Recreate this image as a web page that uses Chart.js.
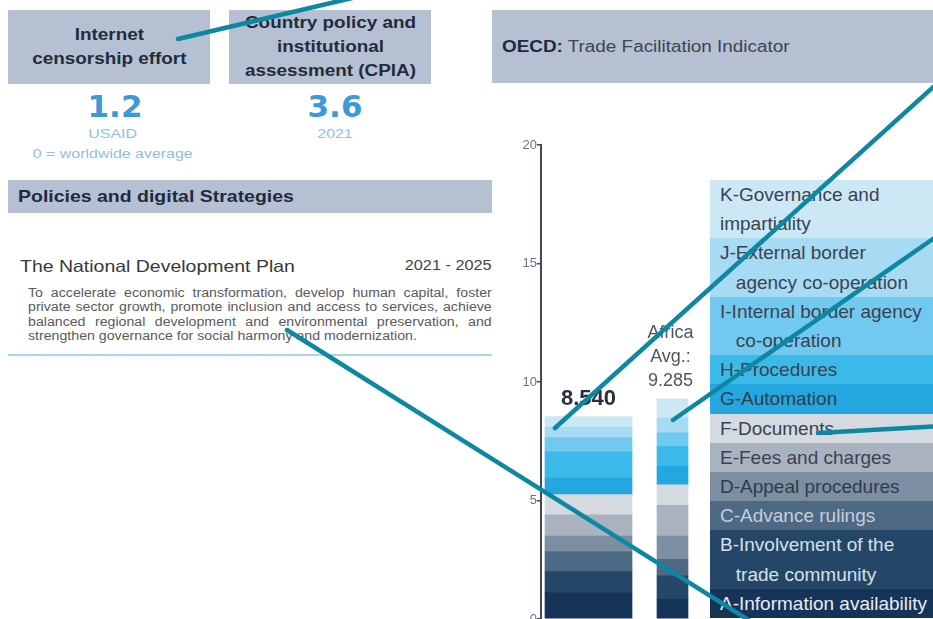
<!DOCTYPE html>
<html>
<head>
<meta charset="utf-8">
<script src="https://cdn.jsdelivr.net/npm/chart.js@4.4.1/dist/chart.umd.min.js"></script>
<style>
html,body{margin:0;padding:0;background:#fff;}
body{width:933px;height:619px;overflow:hidden;position:relative;font-family:"Liberation Sans",Arial,Helvetica,sans-serif;}
.abs{position:absolute;}
.hdr{position:absolute;background:#b5c0d2;}
.ctr{display:flex;align-items:center;justify-content:center;text-align:center;}
.sx{display:inline-block;transform:scaleX(1.18);}
.big{position:absolute;font-family:"DejaVu Sans",sans-serif;font-weight:bold;font-size:31px;line-height:32px;color:#3d9ad7;text-align:center;}
.sub{position:absolute;text-align:center;color:#8fc0e3;font-size:13.5px;line-height:18px;}
#legend{position:absolute;left:710px;top:180px;width:240px;}
#legend .item{padding-left:10px;font-size:19px;line-height:29.2px;white-space:pre;}
#para div{text-align:justify;text-align-last:justify;}
#para div.last{text-align:left;text-align-last:left;}
</style>
</head>
<body>
<!-- top left boxes -->
<div class="hdr ctr" style="left:8px;top:10px;width:202px;height:74px;">
  <div class="sx" style="font-weight:bold;font-size:16px;line-height:24px;color:#222c3d;">Internet<br>censorship effort</div>
</div>
<div class="hdr ctr" style="left:229px;top:10px;width:202px;height:74px;">
  <div class="sx" style="font-weight:bold;font-size:16px;line-height:24px;color:#222c3d;">Country policy and<br>institutional<br>assessment (CPIA)</div>
</div>
<div class="hdr" style="left:492px;top:10px;width:460px;height:73px;">
  <div class="sx" style="position:absolute;left:10px;top:27px;font-size:16px;line-height:20px;color:#3c4452;transform-origin:left center;white-space:nowrap;"><b style="color:#1d2a40;">OECD:</b> Trade Facilitation Indicator</div>
</div>

<div class="big" style="left:15px;top:90px;width:200px;">1.2</div>
<div class="sub" style="left:13px;top:125px;width:200px;"><span class="sx">USAID</span></div>
<div class="sub" style="left:13px;top:145px;width:200px;"><span class="sx">0 = worldwide average</span></div>
<div class="big" style="left:235px;top:90px;width:200px;">3.6</div>
<div class="sub" style="left:235px;top:125px;width:200px;"><span class="sx">2021</span></div>

<div class="hdr" style="left:8px;top:180px;width:484px;height:33px;">
  <div class="sx" style="position:absolute;left:10px;top:6px;font-weight:bold;font-size:16.5px;line-height:20px;color:#1f2b3f;transform-origin:left center;white-space:nowrap;">Policies and digital Strategies</div>
</div>

<div class="abs sx" style="left:20px;top:256px;font-size:16.5px;line-height:20px;color:#383838;transform-origin:left center;white-space:nowrap;">The National Development Plan</div>
<div class="abs" style="left:392px;top:257px;width:100px;text-align:right;font-size:13.8px;line-height:18px;color:#444;"><span class="sx" style="transform-origin:right center;">2021 - 2025</span></div>

<div id="para" class="abs" style="left:28px;top:286px;width:393px;font-size:12px;line-height:14.3px;color:#5a5a5a;transform:scaleX(1.18);transform-origin:left top;">
  <div>To accelerate economic transformation, develop human capital, foster</div>
  <div>private sector growth, promote inclusion and access to services, achieve</div>
  <div>balanced regional development and environmental preservation, and</div>
  <div class="last">strengthen governance for social harmony and modernization.</div>
</div>
<div class="abs" style="left:8px;top:354px;width:484px;height:2px;background:#a6d9e4;"></div>

<!-- chart -->
<div class="abs" style="left:495px;top:125px;width:240px;height:502px;"><canvas id="c"></canvas></div>
<div id="legend"></div>

<svg class="abs" style="left:0;top:0;pointer-events:none;" width="933" height="619">
  <g stroke="#0e87a3" stroke-width="4.5" stroke-linecap="round" fill="none">
    <line x1="178" y1="39" x2="352" y2="-2"/>
    <line x1="555" y1="428" x2="940" y2="81"/>
    <line x1="673" y1="420" x2="940" y2="234"/>
    <line x1="818" y1="433" x2="940" y2="426"/>
    <line x1="287" y1="330" x2="755" y2="624"/>
  </g>
</svg>

<script>
// ---- data ----
const categories = ['Country', 'Africa Avg.'];
const indicatorLabels = [
  'A-Information availability',
  'B-Involvement of the\n   trade community',
  'C-Advance rulings',
  'D-Appeal procedures',
  'E-Fees and charges',
  'F-Documents',
  'G-Automation',
  'H-Procedures',
  'I-Internal border agency\n   co-operation',
  'J-External border\n   agency co-operation',
  'K-Governance and\nimpartiality'
];
const countryScores = [1.10, 0.90, 0.85, 0.65, 0.90, 0.85, 0.70, 1.10, 0.60, 0.45, 0.44];
const africaScores  = [0.84, 0.98, 0.70, 0.98, 1.30, 0.86, 0.78, 0.85, 0.57, 0.63, 0.80];
const totals = [8.540, 9.285];
const africaLabelLines = ['Africa', 'Avg.:'];
const yTicks = [0, 5, 10, 15, 20];

// ---- styles ----
const segColors = ['#163458', '#244768', '#4e6984', '#7c8ea1', '#a9b3c0', '#d5d9e0', '#24a6de', '#3bbae9', '#72c9ef', '#a7dbf3', '#cce8f5'];
const legendText = ['#e6ecf2', '#d8e0e8', '#c5ced9', '#2f3b4b', '#3a4250', '#3a4250', '#2e3d50', '#3a4250', '#3a4250', '#3a4250', '#3a4250'];
const barWidths = [87, 31];

const datasets = [];
[countryScores, africaScores].forEach((scores, c) => {
  scores.forEach((v, i) => {
    datasets.push({
      label: categories[c] + ' ' + indicatorLabels[i].replace(/\n\s*/, ' '),
      data: [{x: c, y: v}],
      backgroundColor: segColors[i],
      borderWidth: 0,
      barThickness: barWidths[c],
      stack: 'tfi'
    });
  });
});

const totalsPlugin = {
  id: 'totals',
  afterDatasetsDraw(chart) {
    const {ctx, scales: {x, y}} = chart;
    ctx.save();
    ctx.textAlign = 'center';
    ctx.textBaseline = 'middle';
    ctx.font = 'bold 22px "Liberation Sans", Arial, sans-serif';
    ctx.fillStyle = '#28323f';
    ctx.fillText(totals[0].toFixed(3), x.getPixelForValue(0), y.getPixelForValue(totals[0]) - 18);
    ctx.font = '18px "Liberation Sans", Arial, sans-serif';
    ctx.fillStyle = '#4f5560';
    const ax = x.getPixelForValue(1) - 2, ay = y.getPixelForValue(totals[1]);
    ctx.fillText(africaLabelLines[0], ax, ay - 66);
    ctx.fillText(africaLabelLines[1], ax, ay - 41.5);
    ctx.fillText(totals[1].toFixed(3), ax, ay - 17.5);
    ctx.restore();
  }
};

new Chart(document.getElementById('c'), {
  type: 'bar',
  data: { datasets },
  options: {
    responsive: true,
    maintainAspectRatio: false,
    devicePixelRatio: 1,
    animation: false,
    layout: { padding: { top: 20, bottom: 8, left: 0, right: 0 } },
    plugins: { legend: { display: false }, tooltip: { enabled: false } },
    scales: {
      x: { type: 'linear', display: false, offset: false, stacked: true, min: -0.5655, max: 1.744 },
      y: {
        stacked: true, min: 0, max: 20,
        afterBuildTicks(s) { s.ticks = yTicks.map(v => ({ value: v })); },
        afterFit(s) { s.width = 46; },
        ticks: { padding: 0, color: '#6c727c', font: { family: '"Liberation Sans", Arial, sans-serif', size: 13 } },
        grid: { display: true, drawOnChartArea: false, drawTicks: true, tickLength: 4, color: '#3c4a5c', lineWidth: 1.5 },
        border: { display: true, color: '#3c4a5c', width: 2 }
      }
    }
  },
  plugins: [totalsPlugin]
});

// legend (top = K)
const lg = document.getElementById('legend');
for (let i = indicatorLabels.length - 1; i >= 0; i--) {
  const d = document.createElement('div');
  d.className = 'item';
  d.style.background = segColors[i];
  d.style.color = legendText[i];
  d.textContent = indicatorLabels[i];
  lg.appendChild(d);
}
</script>
</body>
</html>
